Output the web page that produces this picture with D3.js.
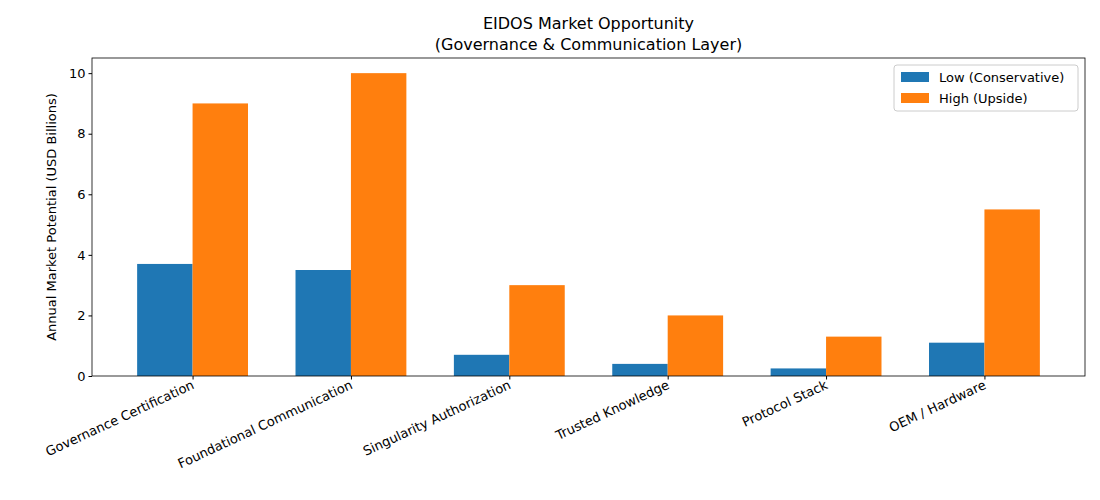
<!DOCTYPE html>
<html><head><meta charset="utf-8">
<script src="https://cdn.jsdelivr.net/npm/d3@7"></script>
<style>body{margin:0;background:#fff}text{font-family:"DejaVu Sans",sans-serif}</style>
</head><body><div id="chart"></div>
<script>
const categories = ["Governance Certification","Foundational Communication","Singularity Authorization","Trusted Knowledge","Protocol Stack","OEM / Hardware"]
const lowValues = [3.7, 3.5, 0.7, 0.4, 0.25, 1.1]
const highValues = [9, 10, 3, 2, 1.3, 5.5]
const yTicks = [0, 2, 4, 6, 8, 10]

const margin = {top: 58, right: 15, bottom: 124, left: 92},
  width = 1100 - margin.left - margin.right,
  height = 500 - margin.top - margin.bottom

const svg = d3.select("#chart").append("svg")
  .attr("width", 1100).attr("height", 500)
const g = svg.append("g").attr("transform", `translate(${margin.left},${margin.top})`)

const bw = 0.35
const x = d3.scaleLinear().domain([-0.635, 5.635]).range([0, width])
const y = d3.scaleLinear().domain([0, 10.5]).range([height, 0])

// bars
g.selectAll(".low").data(lowValues).enter().append("rect")
  .attr("x", (d, i) => x(i - bw)).attr("width", x(bw) - x(0))
  .attr("y", d => y(d)).attr("height", d => height - y(d))
  .attr("fill", "#1f77b4")
g.selectAll(".high").data(highValues).enter().append("rect")
  .attr("x", (d, i) => x(i)).attr("width", x(bw) - x(0))
  .attr("y", d => y(d)).attr("height", d => height - y(d))
  .attr("fill", "#ff7f0e")

// axes
const xAxis = g.append("g").attr("transform", `translate(0,${height})`)
  .call(d3.axisBottom(x).tickValues(d3.range(categories.length)).tickFormat(i => categories[i]).tickSize(3.5).tickSizeOuter(0))
xAxis.selectAll("text").attr("font-size", 13).attr("fill", "#000")
  .attr("text-anchor", "end").attr("dy", null).attr("y", 0)
  .attr("transform", "translate(2,12) rotate(-25)")
const yAxis = g.append("g")
  .call(d3.axisLeft(y).tickValues(yTicks).tickSize(3.5).tickSizeOuter(0))
yAxis.selectAll("text").attr("font-size", 13).attr("fill", "#000")
g.selectAll(".domain").remove()
g.selectAll(".tick line").attr("stroke", "#000")
g.append("rect").attr("width", width).attr("height", height)
  .attr("fill", "none").attr("stroke", "#000").attr("stroke-width", 0.8)

// labels
g.append("text").attr("transform", `translate(-36,${height / 2}) rotate(-90)`)
  .attr("text-anchor", "middle").attr("font-size", 13).text("Annual Market Potential (USD Billions)")
svg.append("text").attr("x", margin.left + width / 2).attr("y", 29)
  .attr("text-anchor", "middle").attr("font-size", 16).text("EIDOS Market Opportunity")
svg.append("text").attr("x", margin.left + width / 2).attr("y", 50)
  .attr("text-anchor", "middle").attr("font-size", 16).text("(Governance & Communication Layer)")

// legend
const lg = g.append("g").attr("transform", `translate(${width - 191},7)`)
lg.append("rect").attr("width", 184).attr("height", 46).attr("rx", 3)
  .attr("fill", "#fff").attr("stroke", "#ccc")
const items = [["Low (Conservative)", "#1f77b4"], ["High (Upside)", "#ff7f0e"]]
items.forEach((it, i) => {
  lg.append("rect").attr("x", 7).attr("y", 7 + i * 21).attr("width", 28).attr("height", 10).attr("fill", it[1])
  lg.append("text").attr("x", 45).attr("y", 17 + i * 21).attr("font-size", 13).text(it[0])
})
</script></body></html>
